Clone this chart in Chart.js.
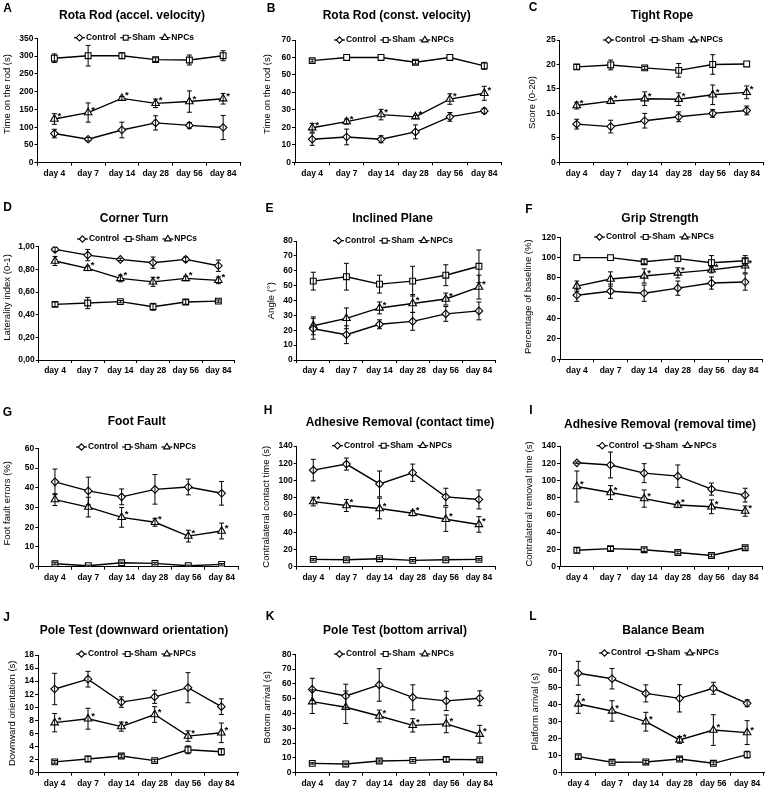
<!DOCTYPE html>
<html>
<head>
<meta charset="utf-8">
<script src="https://cdn.jsdelivr.net/npm/chart.js@4.4.1/dist/chart.umd.min.js"></script>
<style>
  html, body { margin: 0; padding: 0; background: #fff; }
  body { width: 770px; height: 790px; position: relative; overflow: hidden; }
  canvas { position: absolute; }
</style>
</head>
<body>
<script>
const days = ['day 4', 'day 7', 'day 14', 'day 28', 'day 56', 'day 84'];
const groups = ['Control', 'Sham', 'NPCs'];

// A - rota rod, accelerating
const accelControl = [82, 66, 92, 112, 105, 99];
const accelControlSd = [12, 5, 22, 20, 8, 34];
const accelSham = [294, 301, 301, 290, 289, 301];
const accelShamSd = [12, 29, 8, 5, 14, 14];
const accelNpc = [123, 141, 181, 167, 172, 180];
const accelNpcSd = [15, 27, 5, 12, 30, 15];
const accelStars = [1, 1, 1, 1, 1, 1];

// B - rota rod, constant
const constControl = [13.2, 14.5, 13.2, 17.4, 26, 29.4];
const constControlSd = [3.5, 4.5, 2, 4, 2.5, 1.5];
const constSham = [58.2, 60, 60, 57.3, 60, 55.2];
const constShamSd = [0.8, 0, 0, 1, 0, 2];
const constNpc = [19.8, 23.3, 27.3, 26, 36.2, 39.5];
const constNpcSd = [2.5, 1.5, 3, 1, 3, 4];
const constStars = [1, 1, 1, 1, 1, 1];

// C - tight rope
const ropeControl = [7.8, 7.3, 8.5, 9.3, 10, 10.6];
const ropeControlSd = [1, 1.3, 1.5, 1, 0.8, 0.9];
const ropeSham = [19.5, 19.9, 19.3, 18.8, 20, 20.1];
const ropeShamSd = [0.5, 1, 0.3, 1.4, 2, 0];
const ropeNpc = [11.6, 12.5, 13, 12.9, 13.8, 14.3];
const ropeNpcSd = [0.7, 0.5, 1.4, 1.3, 2, 1.3];
const ropeStars = [1, 1, 1, 1, 1, 1];

// D - corner turn
const cornerControl = [0.976, 0.926, 0.888, 0.859, 0.888, 0.832];
const cornerControlSd = [0.02, 0.05, 0.01, 0.05, 0.02, 0.05];
const cornerSham = [0.491, 0.503, 0.515, 0.47, 0.512, 0.52];
const cornerShamSd = [0.02, 0.05, 0.01, 0.03, 0.02, 0.01];
const cornerNpc = [0.874, 0.809, 0.72, 0.69, 0.72, 0.703];
const cornerNpcSd = [0.04, 0.02, 0.03, 0.04, 0.02, 0.03];
const cornerStars = [0, 1, 1, 1, 1, 1];
const cornerTicks = ['0,00', '0,20', '0,40', '0,60', '0,80', '1,00'];

// E - inclined plane
const inclineControl = [21, 17, 24, 26, 31, 33];
const inclineControlSd = [7, 6, 3, 6, 5, 6];
const inclineSham = [53, 56, 51, 53, 57, 63];
const inclineShamSd = [6, 9, 6, 10, 7, 11];
const inclineNpc = [23, 28, 35, 38, 41, 49];
const inclineNpcSd = [6, 7, 4, 6, 4, 8];
const inclineStars = [0, 0, 1, 1, 1, 1];

// F - grip strength
const gripControl = [63, 67, 65, 70, 75, 76];
const gripControlSd = [6, 7, 8, 7, 6, 8];
const gripSham = [100, 100, 96, 99, 95, 97];
const gripShamSd = [0, 0, 2, 3, 7, 5];
const gripNpc = [72, 79, 82, 85, 88, 92];
const gripNpcSd = [5, 7, 7, 5, 3, 7];
const gripStars = [0, 0, 1, 1, 1, 1];

// G - foot fault
const footControl = [43, 38.4, 35.4, 39.2, 40.4, 37.2];
const footControlSd = [6.5, 7, 4, 7.5, 4, 6];
const footSham = [1.5, 0.5, 2, 1.7, 0.5, 1.2];
const footShamSd = [0.5, 0.3, 0.3, 0.5, 0.3, 0.4];
const footNpc = [34, 30.2, 25, 22.5, 15.5, 18.1];
const footNpcSd = [3, 5, 5, 2, 3, 4];
const footStars = [0, 0, 1, 1, 1, 1];

// H - adhesive removal, contact time
const contactControl = [112, 119, 96, 109, 81, 78];
const contactControlSd = [12.5, 7, 15, 10, 10, 11];
const contactSham = [8.5, 8, 9.3, 7.3, 8, 8.5];
const contactShamSd = [1, 1, 1, 1, 1, 1];
const contactNpc = [75.5, 71, 67.5, 62, 55, 49];
const contactNpcSd = [5, 7, 12, 3, 14, 9];
const contactStars = [1, 1, 1, 1, 1, 1];

// I - adhesive removal, removal time
const removalControl = [120.5, 118, 108.5, 105, 90, 83];
const removalControlSd = [1, 15, 11, 13, 7, 8];
const removalSham = [19, 21, 19.7, 16.5, 13, 22];
const removalShamSd = [3, 2.5, 2, 1.5, 1.5, 1.5];
const removalNpc = [93, 86, 79, 71.5, 69.5, 64.5];
const removalNpcSd = [18, 8, 10, 3, 8, 6];
const removalStars = [1, 1, 1, 1, 1, 1];

// J - pole test, downward orientation
const poleDownControl = [12.8, 14.3, 10.8, 11.6, 13, 10.1];
const poleDownControlSd = [2.4, 1.2, 0.8, 1, 2.3, 1.2];
const poleDownSham = [1.65, 2.1, 2.55, 1.85, 3.5, 3.2];
const poleDownShamSd = [0.2, 0.4, 0.2, 0.2, 0.6, 0.5];
const poleDownNpc = [7.65, 8.25, 7.05, 8.9, 5.6, 6.1];
const poleDownNpcSd = [1.4, 1.6, 0.7, 1.2, 0.8, 1.5];
const poleDownStars = [1, 1, 1, 1, 1, 1];

// K - pole test, bottom arrival
const poleBottomControl = [56.3, 51.8, 59.3, 50.9, 48.5, 50.3];
const poleBottomControlSd = [7.5, 8, 11, 8.5, 6.5, 5];
const poleBottomSham = [6.3, 5.9, 7.9, 8.3, 9, 8.8];
const poleBottomShamSd = [0.5, 0.5, 0.7, 0.7, 1.5, 1];
const poleBottomNpc = [48, 44.2, 38.3, 32, 33, 26];
const poleBottomNpcSd = [8, 11, 4, 4.5, 6, 6];
const poleBottomStars = [0, 0, 1, 1, 1, 1];

// L - balance beam
const beamControl = [58.3, 55.1, 46.5, 43.6, 49.5, 40.7];
const beamControlSd = [7, 6, 5, 8, 3.5, 2];
const beamSham = [9.4, 6.1, 6.3, 8, 5.5, 10.6];
const beamShamSd = [1, 0.8, 0.8, 1, 0.8, 2];
const beamNpc = [40.3, 36.2, 29.9, 19.2, 25, 23.5];
const beamNpcSd = [5.5, 6, 5.5, 2, 9, 7];
const beamStars = [1, 1, 1, 1, 1, 1];

const FONT = "'Liberation Sans', Arial, sans-serif";
const markers = ['rectRot', 'rect', 'triangle'];
const markerSize = [3.8, 4.1, 4.4];

const colLeft = [0, 255, 510];
const colWidth = [255, 255, 260];
const rowTop = [0, 195, 395, 590];
const rowHeight = [195, 200, 195, 200];

// layout in page pixels: plot = [left, top, right, bottom]
const panels = [
    { letter: 'A', title: 'Rota Rod (accel. velocity)', yTitle: 'Time on the rod (s)', yMax: 350, yStep: 50,
      values: [accelControl, accelSham, accelNpc], errors: [accelControlSd, accelShamSd, accelNpcSd], stars: accelStars,
      cell: [0, 0], plot: [37.5, 38.3, 240, 162.7], letterAt: [7.5, 9], titleAt: [132, 16], legendAt: [134, 37.7], yTitleAt: [7.5, 94] },
    { letter: 'B', title: 'Rota Rod (const. velocity)', yTitle: 'Time on the rod (s)', yMax: 70, yStep: 10,
      values: [constControl, constSham, constNpc], errors: [constControlSd, constShamSd, constNpcSd], stars: constStars,
      cell: [1, 0], plot: [295, 40, 501.5, 162.3], letterAt: [271, 9], titleAt: [396.7, 16], legendAt: [394, 40], yTitleAt: [267.5, 94] },
    { letter: 'C', title: 'Tight Rope', yTitle: 'Score (0-20)', yMax: 25, yStep: 5,
      values: [ropeControl, ropeSham, ropeNpc], errors: [ropeControlSd, ropeShamSd, ropeNpcSd], stars: ropeStars,
      cell: [2, 0], plot: [559.7, 40, 763.7, 162.3], letterAt: [533, 8], titleAt: [662, 16], legendAt: [663, 40], yTitleAt: [532, 102.5] },
    { letter: 'D', title: 'Corner Turn', yTitle: 'Laterality index (0-1)', yMax: 1, yStep: 0.2, tickLabels: cornerTicks,
      values: [cornerControl, cornerSham, cornerNpc], errors: [cornerControlSd, cornerShamSd, cornerNpcSd], stars: cornerStars,
      cell: [0, 1], plot: [38.7, 246.7, 234.7, 360], letterAt: [7.5, 208], titleAt: [134, 219], legendAt: [137, 239], yTitleAt: [7, 297.5] },
    { letter: 'E', title: 'Inclined Plane', yTitle: 'Angle (°)', yMax: 80, yStep: 10,
      values: [inclineControl, inclineSham, inclineNpc], errors: [inclineControlSd, inclineShamSd, inclineNpcSd], stars: inclineStars,
      cell: [1, 1], plot: [296.7, 241, 495.5, 360], letterAt: [269.5, 209], titleAt: [392.5, 219], legendAt: [393, 240.7], yTitleAt: [271, 300.7] },
    { letter: 'F', title: 'Grip Strength', yTitle: 'Percentage of baseline (%)', yMax: 120, yStep: 20,
      values: [gripControl, gripSham, gripNpc], errors: [gripControlSd, gripShamSd, gripNpcSd], stars: gripStars,
      cell: [2, 1], plot: [560, 237.3, 762, 359.3], letterAt: [529, 210], titleAt: [660, 219], legendAt: [654, 237], yTitleAt: [528, 296.7] },
    { letter: 'G', title: 'Foot Fault', yTitle: 'Foot fault errors (%)', yMax: 60, yStep: 10,
      values: [footControl, footSham, footNpc], errors: [footControlSd, footShamSd, footNpcSd], stars: footStars,
      cell: [0, 2], plot: [38.3, 448.3, 238.3, 566.7], letterAt: [7.5, 412.5], titleAt: [136.7, 421.7], legendAt: [136, 447], yTitleAt: [7, 503.3] },
    { letter: 'H', title: 'Adhesive Removal (contact time)', yTitle: 'Contralateral contact time (s)', yMax: 140, yStep: 20,
      values: [contactControl, contactSham, contactNpc], errors: [contactControlSd, contactShamSd, contactNpcSd], stars: contactStars,
      cell: [1, 2], plot: [296.7, 446, 495.5, 566.7], letterAt: [268, 411], titleAt: [400, 423], legendAt: [392, 445.7], yTitleAt: [266, 506.7] },
    { letter: 'I', title: 'Adhesive Removal (removal time)', yTitle: 'Contralateral removal time (s)', yMax: 140, yStep: 20,
      values: [removalControl, removalSham, removalNpc], errors: [removalControlSd, removalShamSd, removalNpcSd], stars: removalStars,
      cell: [2, 2], plot: [560, 446, 762, 566.7], letterAt: [531, 411], titleAt: [660, 425], legendAt: [656.7, 445.7], yTitleAt: [529, 504] },
    { letter: 'J', title: 'Pole Test (downward orientation)', yTitle: 'Downward orientation (s)', yMax: 18, yStep: 2,
      values: [poleDownControl, poleDownSham, poleDownNpc], errors: [poleDownControlSd, poleDownShamSd, poleDownNpcSd], stars: poleDownStars,
      cell: [0, 3], plot: [38, 655, 238, 772.7], letterAt: [6.7, 617.5], titleAt: [134, 630.7], legendAt: [136, 654], yTitleAt: [12.5, 713.3] },
    { letter: 'K', title: 'Pole Test (bottom arrival)', yTitle: 'Bottom arrival (s)', yMax: 80, yStep: 10,
      values: [poleBottomControl, poleBottomSham, poleBottomNpc], errors: [poleBottomControlSd, poleBottomShamSd, poleBottomNpcSd], stars: poleBottomStars,
      cell: [1, 3], plot: [295.5, 654.3, 496.5, 772.7], letterAt: [270, 617], titleAt: [395, 630.7], legendAt: [394, 654], yTitleAt: [267.5, 707.3] },
    { letter: 'L', title: 'Balance Beam', yTitle: 'Platform arrival (s)', yMax: 70, yStep: 10,
      values: [beamControl, beamSham, beamNpc], errors: [beamControlSd, beamShamSd, beamNpcSd], stars: beamStars,
      cell: [2, 3], plot: [561.4, 653.3, 764, 772.7], letterAt: [533, 617], titleAt: [663.3, 630.7], legendAt: [659, 653], yTitleAt: [535, 711.7] },
];

const drawMarker = (ctx, style, x, y, r) => {
    ctx.beginPath();
    if (style === 'rectRot') {
        ctx.moveTo(x, y - r);
        ctx.lineTo(x + r, y);
        ctx.lineTo(x, y + r);
        ctx.lineTo(x - r, y);
        ctx.closePath();
    } else if (style === 'rect') {
        const h = r * Math.SQRT1_2;
        ctx.rect(x - h, y - h, 2 * h, 2 * h);
    } else {
        for (let k = 0; k < 3; k++) {
            const a = k * 2 * Math.PI / 3;
            const px = x + Math.sin(a) * r;
            const py = y - Math.cos(a) * r;
            if (k === 0) ctx.moveTo(px, py); else ctx.lineTo(px, py);
        }
        ctx.closePath();
    }
    ctx.fillStyle = '#fff';
    ctx.fill();
    ctx.strokeStyle = '#000';
    ctx.lineWidth = 1.1;
    ctx.stroke();
};

// error bars, asterisks, letter, title, legend and axis title
const decorations = {
    id: 'decorations',
    afterDatasetsDraw(chart, args, opts) {
        const ctx = chart.ctx;
        const yScale = chart.scales.y;
        ctx.save();
        ctx.strokeStyle = '#000';
        ctx.lineWidth = 1;
        chart.data.datasets.forEach((ds, i) => {
            const meta = chart.getDatasetMeta(i);
            meta.data.forEach((pt, j) => {
                const e = ds.errors[j];
                if (!e) return;
                const top = yScale.getPixelForValue(ds.data[j] + e);
                const bot = yScale.getPixelForValue(Math.max(0, ds.data[j] - e));
                ctx.beginPath();
                ctx.moveTo(pt.x, top);
                ctx.lineTo(pt.x, bot);
                ctx.moveTo(pt.x - 2.5, top);
                ctx.lineTo(pt.x + 2.5, top);
                ctx.moveTo(pt.x - 2.5, bot);
                ctx.lineTo(pt.x + 2.5, bot);
                ctx.stroke();
            });
        });
        const npcMeta = chart.getDatasetMeta(2);
        ctx.fillStyle = '#000';
        ctx.font = 'bold 9.5px ' + FONT;
        ctx.textAlign = 'center';
        ctx.textBaseline = 'alphabetic';
        npcMeta.data.forEach((pt, j) => {
            if (opts.panel.stars[j]) ctx.fillText('*', pt.x + 5, pt.y);
        });
        ctx.restore();
    },
    afterDraw(chart, args, opts) {
        const p = opts.panel;
        const ox = colLeft[p.cell[0]];
        const oy = rowTop[p.cell[1]];
        const ctx = chart.ctx;
        ctx.save();
        ctx.fillStyle = '#000';
        ctx.textBaseline = 'middle';
        ctx.textAlign = 'center';
        ctx.font = 'bold 12px ' + FONT;
        ctx.fillText(p.letter, p.letterAt[0] - ox, p.letterAt[1] - oy);
        ctx.fillText(p.title, p.titleAt[0] - ox, p.titleAt[1] - oy);

        ctx.save();
        ctx.translate(p.yTitleAt[0] - ox, p.yTitleAt[1] - oy);
        ctx.rotate(-Math.PI / 2);
        ctx.font = '9.5px ' + FONT;
        ctx.fillText(p.yTitle, 0, 0);
        ctx.restore();

        // legend: line with marker, then label
        ctx.font = 'bold 8.5px ' + FONT;
        const seg = 11;
        const gap = 4;
        const widths = groups.map((g) => ctx.measureText(g).width);
        const total = widths.reduce((a, b) => a + b, 0) + groups.length * (seg + 1) + (groups.length - 1) * gap;
        let x = p.legendAt[0] - ox - total / 2;
        const y = p.legendAt[1] - oy;
        ctx.textAlign = 'left';
        groups.forEach((g, i) => {
            ctx.beginPath();
            ctx.strokeStyle = '#000';
            ctx.lineWidth = 1.2;
            ctx.moveTo(x, y);
            ctx.lineTo(x + seg, y);
            ctx.stroke();
            drawMarker(ctx, markers[i], x + seg / 2, y, markerSize[i] * 0.85);
            ctx.fillStyle = '#000';
            ctx.fillText(g, x + seg + 1, y);
            x += seg + 1 + widths[i] + gap;
        });
        ctx.restore();
    },
};

Chart.defaults.font.family = FONT;
Chart.defaults.color = '#000';

panels.forEach((p) => {
    const left = colLeft[p.cell[0]];
    const top = rowTop[p.cell[1]];
    const w = colWidth[p.cell[0]];
    const h = rowHeight[p.cell[1]];
    const [x0, y0, x1, y1] = p.plot;

    const canvas = document.createElement('canvas');
    canvas.width = w;
    canvas.height = h;
    canvas.style.left = left + 'px';
    canvas.style.top = top + 'px';
    canvas.style.width = w + 'px';
    canvas.style.height = h + 'px';
    document.body.appendChild(canvas);

    new Chart(canvas, {
        type: 'line',
        data: {
            labels: days,
            datasets: groups.map((g, i) => ({
                label: g,
                data: p.values[i],
                errors: p.errors[i],
                borderColor: '#000',
                borderWidth: 1.4,
                tension: 0,
                pointStyle: markers[i],
                pointRadius: markerSize[i],
                pointBackgroundColor: '#fff',
                pointBorderColor: '#000',
                pointBorderWidth: 1.1,
            })),
        },
        options: {
            responsive: false,
            animation: false,
            layout: {
                padding: { left: 0, top: y0 - top, right: left + w - x1, bottom: 0 },
            },
            plugins: {
                legend: { display: false },
                title: { display: false },
                tooltip: { enabled: false },
                decorations: { panel: p },
            },
            scales: {
                x: {
                    type: 'category',
                    offset: true,
                    grid: { display: true, drawOnChartArea: false, offset: true, tickLength: 3, color: '#000' },
                    border: { display: true, color: '#000', width: 1 },
                    ticks: { font: { size: 8.5, weight: 'bold' }, color: '#000', padding: 3, maxRotation: 0, autoSkip: false },
                    afterFit: (scale) => { scale.height = top + h - y1; },
                },
                y: {
                    min: 0,
                    max: p.yMax,
                    grid: { display: true, drawOnChartArea: false, tickLength: 3, color: '#000' },
                    border: { display: true, color: '#000', width: 1 },
                    ticks: {
                        stepSize: p.yStep,
                        autoSkip: false,
                        font: { size: 8.5, weight: 'bold' },
                        color: '#000',
                        padding: 1,
                        callback: (value, index) => (p.tickLabels ? p.tickLabels[index] : value),
                    },
                    afterFit: (scale) => { scale.width = x0 - left; },
                },
            },
        },
        plugins: [decorations],
    });
});
</script>
</body>
</html>
